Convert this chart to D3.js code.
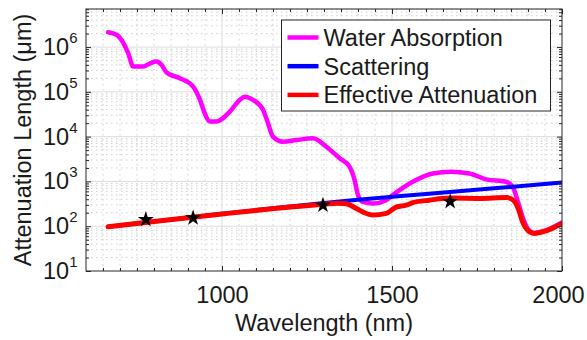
<!DOCTYPE html>
<html>
<head>
<meta charset="utf-8">
<script src="https://cdn.jsdelivr.net/npm/d3@7"></script>
<style>
  body { margin: 0; background: #fff; }
  svg { font-family: "Liberation Sans", Arial, Helvetica, sans-serif; }
</style>
</head>
<body>
<div id="chart"></div>
<script>
// water absorption length (um) vs wavelength (nm)
const waterWl = [665, 690, 710, 724, 739, 768, 790, 808, 822, 837, 876, 915, 935, 949, 964, 984, 1023, 1052, 1067, 1091, 1121, 1134, 1150, 1179, 1219, 1267, 1307, 1346, 1375, 1390, 1400, 1414, 1444, 1483, 1502, 1561, 1620, 1674, 1727, 1777, 1835, 1855, 1869, 1884, 1899, 1918, 1953, 2000];
const waterVal = [2.15e6, 1.88e6, 1.23e6, 7.35e5, 3.68e5, 3.68e5, 4.4e5, 4.76e5, 4.02e5, 2.7e5, 2.02e5, 1.31e5, 6.7e4, 3.33e4, 2.17e4, 2.17e4, 3.62e4, 6.6e4, 7.8e4, 6.6e4, 3.95e4, 2.13e4, 1.0e4, 7.7e3, 8.4e3, 9.2e3, 5.96e3, 3.28e3, 2.13e3, 1.07e3, 494, 350, 322, 382, 494, 982, 1510, 1640, 1510, 1110, 982, 759, 382, 161, 89, 71, 81, 121];

// scattering length
const scatWl = [665, 800, 1000, 1200, 1300, 1400, 1600, 1800, 2000];
const scatVal = [97, 128, 189, 276, 330, 390, 524, 702, 942];

// effective attenuation length
const effWl = [665, 800, 1000, 1200, 1300, 1340, 1365, 1395, 1414, 1444, 1483, 1512, 1542, 1561, 1610, 1672, 1757, 1839, 1860, 1873, 1884, 1899, 1918, 1953, 2000];
const effVal = [97, 127, 187, 268, 310, 325, 318, 249, 209, 178, 193, 267, 295, 336, 382, 424, 417, 435, 363, 228, 125, 81, 69, 79, 116];

// star markers
const starWl = [776, 915, 1297, 1671];
const starVal = [141, 153, 295, 355];

const xTicks = [1000, 1500, 2000];
const yExp = [1, 2, 3, 4, 5, 6];
const legendLabels = ["Water Absorption", "Scattering", "Effective Attenuation"];
const colors = ["#ff00ff", "#0000ff", "#ff0000"];

const W = 587, H = 340;
const margin = { top: 9, right: 25, bottom: 69, left: 86 };
const width = W - margin.left - margin.right;
const height = H - margin.top - margin.bottom;
const fs = "23.5px";

const x = d3.scaleLinear().domain([600, 2000]).range([0, width]);
const y = d3.scaleLog().domain([10, Math.pow(10, 6.85)]).range([height, 0]);

const svg = d3.select("#chart").append("svg")
  .attr("width", W).attr("height", H);
const g = svg.append("g")
  .attr("transform", "translate(" + margin.left + "," + margin.top + ")");

g.append("rect").attr("width", width).attr("height", height).attr("fill", "#fff");

// minor ticks / grid values
const xMinor = d3.range(650, 2000, 50).filter(v => v % 500 !== 0);
const yMinor = [];
yExp.forEach(e => { for (let k = 2; k <= 9; k++) yMinor.push(k * Math.pow(10, e)); });
const yMinorIn = yMinor.filter(v => v < y.domain()[1]);
const yMajor = yExp.map(e => Math.pow(10, e));

// grid
const grid = g.append("g");
grid.selectAll(".xm").data(xMinor).enter().append("line")
  .attr("x1", d => x(d)).attr("x2", d => x(d)).attr("y1", 0).attr("y2", height)
  .attr("stroke", "#c4c4c4").attr("stroke-width", 0.8).attr("stroke-dasharray", "1.5,3.5");
grid.selectAll(".ym").data(yMinorIn).enter().append("line")
  .attr("x1", 0).attr("x2", width).attr("y1", d => y(d)).attr("y2", d => y(d))
  .attr("stroke", "#c4c4c4").attr("stroke-width", 0.8).attr("stroke-dasharray", "1.5,3.5");
grid.selectAll(".xM").data([1000, 1500]).enter().append("line")
  .attr("x1", d => x(d)).attr("x2", d => x(d)).attr("y1", 0).attr("y2", height)
  .attr("stroke", "#dcdcdc").attr("stroke-width", 1);
grid.selectAll(".yM").data(yMajor.slice(1)).enter().append("line")
  .attr("x1", 0).attr("x2", width).attr("y1", d => y(d)).attr("y2", d => y(d))
  .attr("stroke", "#dcdcdc").attr("stroke-width", 1);

// lines
g.append("clipPath").attr("id", "clip").append("rect")
  .attr("width", width).attr("height", height);
const line = d3.line()
  .x(d => x(d[0])).y(d => y(d[1]))
  .curve(d3.curveMonotoneX);
const series = [
  d3.zip(waterWl, waterVal),
  d3.zip(scatWl, scatVal),
  d3.zip(effWl, effVal)
];
const widths = [4.5, 4, 5];
series.forEach((s, i) => {
  g.append("path").datum(s)
    .attr("clip-path", "url(#clip)")
    .attr("d", line)
    .attr("fill", "none")
    .attr("stroke", colors[i])
    .attr("stroke-width", widths[i])
    .attr("stroke-linejoin", "round")
    .attr("stroke-linecap", "round");
});

// stars
g.selectAll(".star").data(d3.zip(starWl, starVal)).enter().append("path")
  .attr("d", d3.symbol().type(d3.symbolStar).size(80))
  .attr("transform", d => "translate(" + x(d[0]) + "," + y(d[1]) + ")")
  .attr("fill", "#000");

// axes (ticks inward)
const axColor = "#262626";
function styleAxis(sel) {
  sel.select(".domain").remove();
  sel.selectAll(".tick line").attr("stroke", axColor);
  sel.selectAll("text").attr("fill", "#1a1a1a");
}

g.append("g").attr("transform", "translate(0," + height + ")")
  .call(d3.axisBottom(x).tickValues(xTicks).tickSize(-5).tickPadding(15).tickFormat(d3.format("d")))
  .call(styleAxis)
  .selectAll("text").attr("font-size", fs)
  .attr("dx", d => d === 2000 ? -4 : 0); // keep last label inside the page
g.append("g").attr("transform", "translate(0," + height + ")")
  .call(d3.axisBottom(x).tickValues(xMinor).tickSize(-3).tickFormat(""))
  .call(styleAxis);
g.append("g")
  .call(d3.axisTop(x).tickValues(xTicks).tickSize(-5).tickFormat(""))
  .call(styleAxis);
g.append("g")
  .call(d3.axisTop(x).tickValues(xMinor).tickSize(-3).tickFormat(""))
  .call(styleAxis);

const yAx = g.append("g")
  .call(d3.axisLeft(y).tickValues(yMajor).tickSize(-5).tickPadding(8.5).tickFormat(""))
  .call(styleAxis);
yAx.selectAll(".tick text").each(function (d) {
  const t = d3.select(this).attr("font-size", fs);
  t.append("tspan").text("10");
  t.append("tspan").attr("font-size", "15px").attr("dy", -12).text(Math.round(Math.log10(d)));
});
g.append("g")
  .call(d3.axisLeft(y).tickValues(yMinorIn).tickSize(-3).tickFormat(""))
  .call(styleAxis);
g.append("g").attr("transform", "translate(" + width + ",0)")
  .call(d3.axisRight(y).tickValues(yMajor).tickSize(-5).tickFormat(""))
  .call(styleAxis);
g.append("g").attr("transform", "translate(" + width + ",0)")
  .call(d3.axisRight(y).tickValues(yMinorIn).tickSize(-3).tickFormat(""))
  .call(styleAxis);

// box
g.append("rect").attr("width", width).attr("height", height)
  .attr("fill", "none").attr("stroke", axColor).attr("stroke-width", 1);

// axis labels
svg.append("text")
  .attr("x", margin.left + width / 2).attr("y", 331)
  .attr("text-anchor", "middle").attr("font-size", fs).attr("fill", "#1a1a1a")
  .text("Wavelength (nm)");
svg.append("text")
  .attr("transform", "translate(31," + (margin.top + height / 2) + ") rotate(-90)")
  .attr("text-anchor", "middle").attr("font-size", fs).attr("fill", "#1a1a1a")
  .text("Attenuation Length (μm)");

// legend
const lg = svg.append("g").attr("transform", "translate(281.5,20)");
lg.append("rect").attr("width", 269).attr("height", 91)
  .attr("fill", "#fff").attr("stroke", axColor).attr("stroke-width", 1);
legendLabels.forEach((lab, i) => {
  const cy = 17.5 + i * 28.7;
  lg.append("line").attr("x1", 6).attr("x2", 37).attr("y1", cy).attr("y2", cy)
    .attr("stroke", colors[i]).attr("stroke-width", 4.5);
  lg.append("text").attr("x", 42).attr("y", cy).attr("dy", "0.36em")
    .attr("font-size", fs).attr("fill", "#1a1a1a").text(lab);
});
</script>
</body>
</html>
